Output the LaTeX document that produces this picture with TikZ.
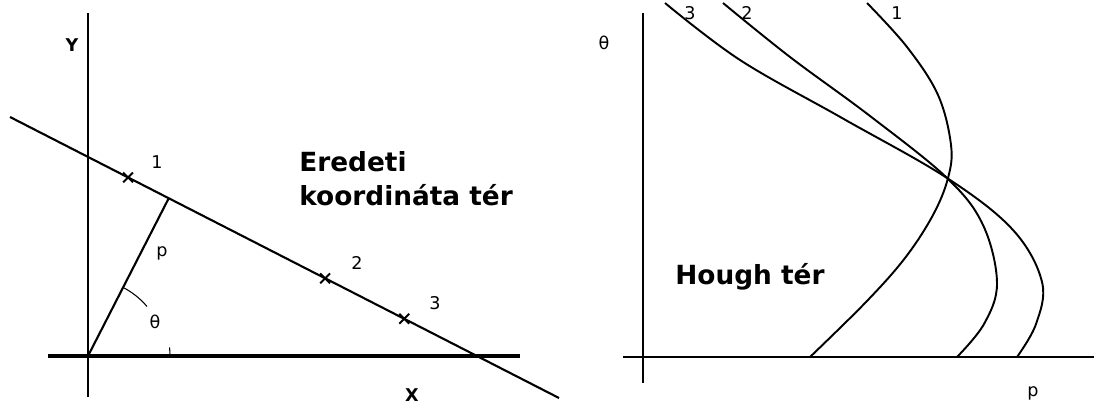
\documentclass[tikz,border=0pt]{standalone}
\usepackage{fontspec}
\setmainfont{DejaVu Sans}
\usetikzlibrary{calc,shapes.misc}

\begin{document}
\begin{tikzpicture}[
    x=0.02cm, y=0.02cm,
    every node/.style={
        inner sep=1pt,
        font=\fontsize{10}{12}\selectfont
    },
    axis/.style={line width=0.6pt},
    baseaxis/.style={line width=1.8pt},
    geomline/.style={line width=1.2pt},
    curve/.style={line width=1.1pt, smooth, tension=0.6},
    ptmark/.style={draw, cross out, line width=1.1pt, minimum size=4.5pt, inner sep=0pt},
    title/.style={font=\fontsize{15}{19.3}\selectfont\bfseries, align=left, inner sep=0pt}
]
\useasboundingbox (0,0) rectangle (1094,410);

% eredeti koordinata ter
\coordinate (o) at (88,54);
\coordinate (la) at (10,293);
\coordinate (lb) at (559,12);
\coordinate (foot) at ($(la)!(o)!(lb)$);

\draw [axis] (88,13) -- (88,397);
\draw [baseaxis] (48,54) -- (520,54);
\draw [geomline] (la) -- (lb);
\draw [geomline] (o) -- (foot);

\draw [axis] (o) ++(63.3:77) arc[start angle=63.3, end angle=40, radius=77];
\draw [axis] (o) ++(0:82) arc[start angle=0, end angle=6, radius=82];

\node [ptmark] (pt1) at ($(la)!0.215!(lb)$) {};
\node [ptmark] (pt2) at ($(la)!0.574!(lb)$) {};
\node [ptmark] (pt3) at ($(la)!0.718!(lb)$) {};

\node (n1) at (157,248) {1};
\node (n2) at (357,147) {2};
\node (n3) at (435,107) {3};
\node (rho) at (162,157) {p};
\node (theta) at (155,88) {θ};
\node (ylab) at (72,365) {\bfseries Y};
\node (xlab) at (412,15) {\bfseries X};

\node [title, anchor=north west] (orig) at (299,259) {Eredeti\\koordináta tér};

% hough ter
\draw [axis] (643,27) -- (643,397);
\draw [axis] (623,53) -- (1094,53);

\draw [curve] plot coordinates {(867,407) (907,363) (938,315) (951,265)
    (948,232) (933,195) (905,152) (866,108) (810,53)};
\draw [curve] plot coordinates {(723,407) (790,353) (870,294) (947,232)
    (983,185) (997,127) (984,86) (957,53)};
\draw [curve] plot coordinates {(665,407) (740,350) (842,292) (947,232)
    (1013,180) (1042,128) (1036,86) (1017,53)};

\node (h1) at (897,397) {1};
\node (h2) at (747,397) {2};
\node (h3) at (690,397) {3};
\node (htheta) at (604,367) {θ};
\node (hrho) at (1033,17) {p};

\node [title, anchor=west] (hough) at (675,133) {Hough tér};

\end{tikzpicture}
\end{document}
